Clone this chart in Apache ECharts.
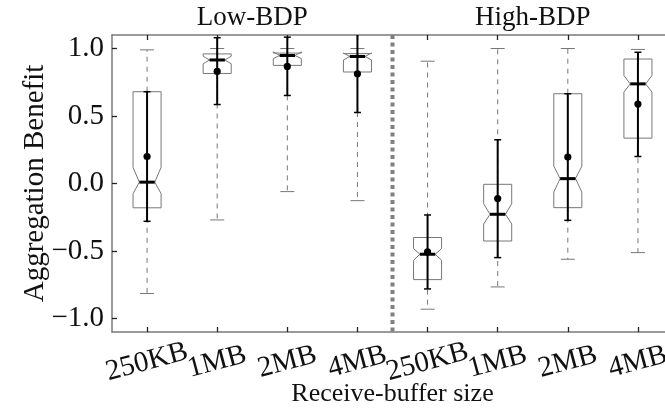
<!DOCTYPE html>
<html>
<head>
<meta charset="utf-8">
<script src="https://cdn.jsdelivr.net/npm/echarts@6/dist/echarts.min.js"></script>
<style>
  html, body { margin: 0; padding: 0; background: #fff; }
  #chart { width: 665px; height: 412px; }
</style>
</head>
<body>
<div id="chart"></div>
<script>
// receive-buffer sizes, first four Low-BDP then four High-BDP
const categories = ['250KB', '1MB', '2MB', '4MB', '250KB', '1MB', '2MB', '4MB']
const groupNames = ['Low-BDP', 'High-BDP']
const groupSize = 4

// box statistics
const whiskerLow  = [-0.815, -0.27, -0.06, -0.127, -0.931, -0.766, -0.561, -0.512]
const q1          = [-0.18, 0.815, 0.875, 0.826, -0.712, -0.426, -0.179, 0.336]
const notchLow    = [-0.075, 0.887, 0.925, 0.915, -0.569, -0.30, -0.063, 0.677]
const median      = [0.01, 0.915, 0.948, 0.941, -0.524, -0.228, 0.036, 0.738]
const notchHigh   = [0.12, 0.943, 0.975, 0.967, -0.482, -0.15, 0.129, 0.80]
const q3          = [0.68, 0.96, 0.966, 0.962, -0.40, -0.006, 0.665, 0.922]
const whiskerHigh = [0.99, 1.0, 1.0, 1.0, 0.906, 1.0, 1.0, 0.993]

// mean and its error bar
const mean    = [0.20, 0.83, 0.867, 0.813, -0.507, -0.112, 0.196, 0.588]
const errLow  = [-0.28, 0.585, 0.652, 0.526, -0.781, -0.549, -0.273, 0.20]
const errHigh = [0.68, 1.08, 1.084, 1.15, -0.233, 0.324, 0.665, 0.972]

const yTicks = [-1.0, -0.5, 0.0, 0.5, 1.0]

const FONT = "'Liberation Serif', 'DejaVu Serif', serif"
const FRAME = '#7a7a7a'

const boxData = categories.map((c, i) => [
  i, whiskerLow[i], q1[i], notchLow[i], median[i], notchHigh[i],
  q3[i], whiskerHigh[i], mean[i], errLow[i], errHigh[i]
])

const line = (x1, y1, x2, y2, style) => ({
  type: 'line',
  shape: { x1, y1, x2, y2 },
  style
})

const renderBox = (params, api) => {
  const idx = api.value(0)
  const x = api.coord([idx, 0])[0]
  const band = api.size([1, 0])[0]
  const hw = band * 0.2
  const nw = hw * 0.55
  const cw = hw * 0.5
  const ew = 3.5
  const y = k => api.coord([idx, api.value(k)])[1]
  const wl = y(1), b1 = y(2), nlo = y(3), med = y(4), nhi = y(5)
  const b3 = y(6), wh = y(7), mn = y(8), el = y(9), eh = y(10)
  const gray = { stroke: '#777', lineWidth: 1, fill: null }
  const dashed = { stroke: '#777', lineWidth: 1, lineDash: [5, 5] }
  return {
    type: 'group',
    children: [
      line(x, b3, x, wh, dashed),
      line(x, b1, x, wl, dashed),
      line(x - cw, wh, x + cw, wh, gray),
      line(x - cw, wl, x + cw, wl, gray),
      {
        type: 'polygon',
        shape: {
          points: [
            [x - hw, b1], [x - hw, nlo], [x - nw, med], [x - hw, nhi], [x - hw, b3],
            [x + hw, b3], [x + hw, nhi], [x + nw, med], [x + hw, nlo], [x + hw, b1]
          ]
        },
        style: gray
      },
      line(x, el, x, eh, { stroke: '#000', lineWidth: 2 }),
      line(x - ew, el, x + ew, el, { stroke: '#000', lineWidth: 1.5 }),
      line(x - ew, eh, x + ew, eh, { stroke: '#000', lineWidth: 1.5 }),
      line(x - nw, med, x + nw, med, { stroke: '#000', lineWidth: 3 }),
      { type: 'circle', shape: { cx: x, cy: mn, r: 3.6 }, style: { fill: '#000' } }
    ]
  }
}

// dotted divider between the two groups and the group headings
const renderDivider = (params, api) => {
  const last = groupSize - 1
  const xa = api.coord([last, 0])[0]
  const xb = api.coord([last + 1, 0])[0]
  const band = api.size([1, 0])[0]
  const top = params.coordSys.y
  const bottom = params.coordSys.y + params.coordSys.height
  const children = [
    line((xa + xb) / 2, top, (xa + xb) / 2, bottom, { stroke: '#808080', lineWidth: 4, lineDash: [4, 3.5] })
  ]
  groupNames.forEach((name, g) => {
    const x0 = api.coord([g * groupSize, 0])[0]
    const cx = x0 + band * (groupSize - 1) / 2
    children.push({
      type: 'text',
      x: cx,
      y: top - 17,
      style: {
        text: name, fill: '#111', font: '27px ' + FONT,
        align: 'center', verticalAlign: 'middle'
      }
    })
  })
  return { type: 'group', children }
}

const chart = echarts.init(document.getElementById('chart'), null, { renderer: 'canvas' })

const tickStyle = { show: true, inside: true, length: 5, lineStyle: { color: '#222', width: 1.3 } }

chart.setOption({
  animation: false,
  backgroundColor: '#fff',
  textStyle: { fontFamily: FONT },
  grid: { left: 112, right: -8, top: 35, bottom: 80, containLabel: false, outerBoundsMode: 'none' },
  xAxis: [
    {
      type: 'category',
      data: categories,
      position: 'bottom',
      axisLine: { onZero: false, lineStyle: { color: FRAME, width: 1.5 } },
      axisTick: { ...tickStyle, alignWithLabel: true },
      axisLabel: {
        color: '#111', fontSize: 29, fontFamily: FONT,
        rotate: 15, align: 'center', verticalAlign: 'middle', margin: 30,
        interval: 0
      },
      name: 'Receive-buffer size',
      nameLocation: 'middle',
      nameGap: 62,
      nameMoveOverlap: false,
      nameTextStyle: { color: '#111', fontSize: 26, fontFamily: FONT, verticalAlign: 'middle' }
    },
    {
      type: 'category',
      data: categories,
      position: 'top',
      axisLine: { onZero: false, lineStyle: { color: FRAME, width: 1.5 } },
      axisTick: { ...tickStyle, alignWithLabel: true },
      axisLabel: { show: false }
    }
  ],
  yAxis: {
    type: 'value',
    min: -1.1,
    max: 1.1,
    axisLine: { show: true, lineStyle: { color: FRAME, width: 1.5 } },
    axisTick: { ...tickStyle, customValues: yTicks },
    splitLine: { show: false },
    axisLabel: {
      customValues: yTicks,
      color: '#111', fontSize: 29, fontFamily: FONT, margin: 8,
      formatter: v => (v < 0 ? '\u2212' : '') + Math.abs(v).toFixed(1)
    },
    name: 'Aggregation Benefit',
    nameLocation: 'middle',
    nameGap: 62,
    nameMoveOverlap: false,
    nameTextStyle: { color: '#111', fontSize: 29, fontFamily: FONT }
  },
  series: [
    {
      type: 'custom',
      name: 'divider',
      renderItem: renderDivider,
      data: [[0, 0]],
      clip: false,
      silent: true,
      z: 1
    },
    {
      type: 'custom',
      name: 'boxes',
      renderItem: renderBox,
      encode: { x: 0, y: [1, 2, 3, 4, 5, 6, 7, 8, 9, 10] },
      data: boxData,
      clip: true,
      z: 2
    }
  ]
})
</script>
</body>
</html>
